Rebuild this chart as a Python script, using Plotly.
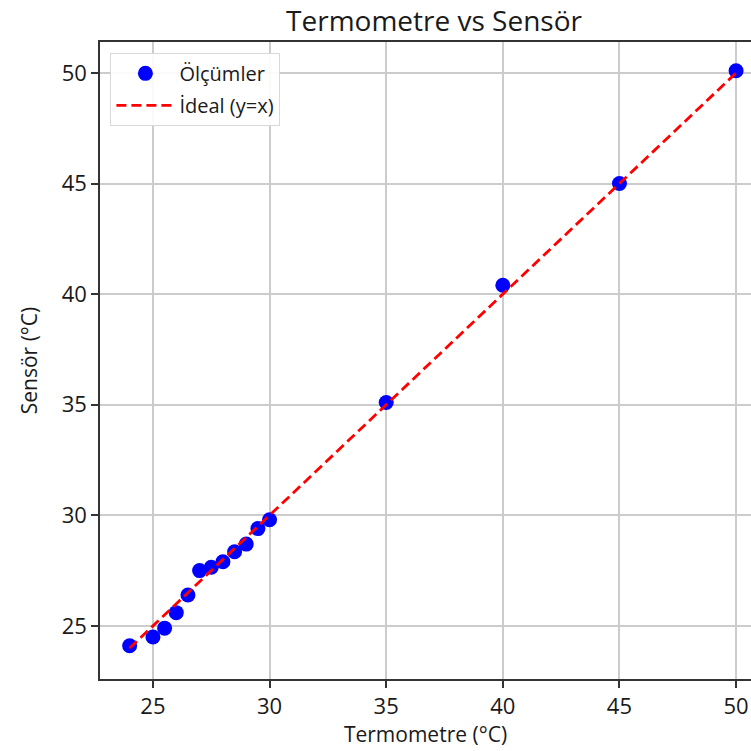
import plotly.graph_objects as go

# Data
termometre = [24, 25, 25.5, 26, 26.5, 27, 27.5, 28, 28.5, 29, 29.5, 30, 35, 40, 45, 50]
sensor = [24.1, 24.5, 24.9, 25.6, 26.4, 27.5, 27.65, 27.9, 28.35, 28.7, 29.4, 29.8, 35.1, 40.4, 45.0, 50.1]
ideal_x = [min(termometre), max(termometre)]
ideal_y = [min(termometre), max(termometre)]
x_ticks = [25, 30, 35, 40, 45, 50]
y_ticks = [25, 30, 35, 40, 45, 50]

FONT = "Open Sans"
TXT = "#1a1a1a"

fig = go.Figure()
fig.add_trace(go.Scatter(
    x=termometre, y=sensor, mode="markers", name="Ölçümler", legendgroup="a",
    marker=dict(color="blue", size=15, line=dict(width=0)),
))
fig.add_trace(go.Scatter(
    x=ideal_x, y=ideal_y, mode="lines", name="İdeal (y=x)", legendgroup="b",
    line=dict(color="red", width=2.8, dash="10px,5px"),
))

fig.update_layout(
    width=751, height=751,
    margin=dict(l=100, r=0, t=42, b=72),
    paper_bgcolor="white", plot_bgcolor="white",
    font=dict(family=FONT, color=TXT),
    title=dict(text="Termometre vs Sensör", x=434 / 751, xanchor="center",
               y=1 - 21 / 751, yanchor="middle",
               font=dict(family=FONT, size=28, color=TXT)),
    legend=dict(x=0.016, y=0.983, xanchor="left", yanchor="top",
                bgcolor="rgba(255,255,255,0.9)", bordercolor="#d8d8d8", borderwidth=1,
                font=dict(family=FONT, size=20, color=TXT), itemwidth=58,
                traceorder="grouped", tracegroupgap=3),
    showlegend=True,
)
fig.update_xaxes(
    range=[22.73, 50.64], tickvals=x_ticks, ticktext=[str(t) for t in x_ticks],
    showgrid=True, gridcolor="#cccccc", gridwidth=1.5,
    showline=True, linecolor="#333333", linewidth=1.5, mirror=True,
    ticks="outside", ticklen=7, tickwidth=1.5, tickcolor="#333333",
    tickfont=dict(family=FONT, size=22, color=TXT),
    title=dict(text="Termometre (°C)", font=dict(family=FONT, size=21, color=TXT), standoff=8),
    zeroline=False,
)
fig.update_yaxes(
    range=[22.6, 51.4], tickvals=y_ticks, ticktext=[str(t) for t in y_ticks],
    showgrid=True, gridcolor="#cccccc", gridwidth=1.5,
    showline=True, linecolor="#333333", linewidth=1.5, mirror=False,
    ticks="outside", ticklen=7, tickwidth=1.5, tickcolor="#333333",
    tickfont=dict(family=FONT, size=22, color=TXT),
    title=dict(text="Sensör (°C)", font=dict(family=FONT, size=21, color=TXT), standoff=18),
    zeroline=False,
)

fig.write_html("out.html")
